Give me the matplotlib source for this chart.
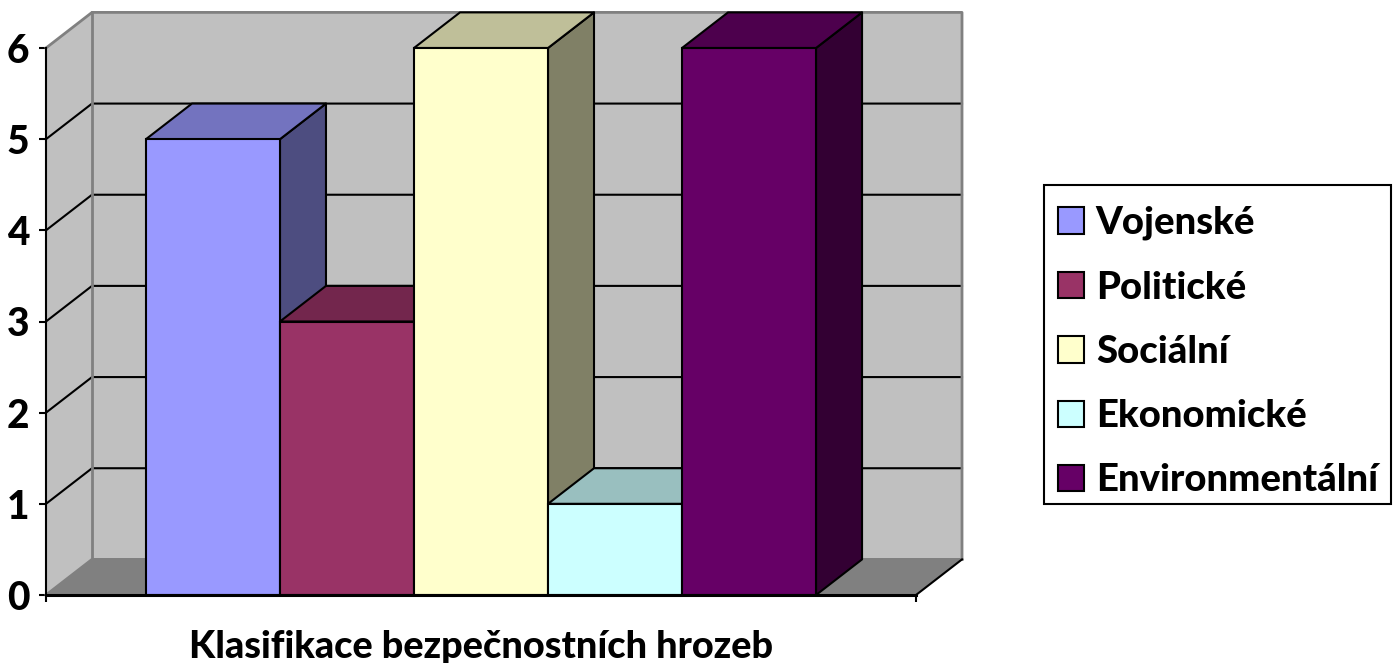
import numpy as np
import matplotlib
matplotlib.use("Agg")
import matplotlib.pyplot as plt
from matplotlib.patches import Polygon, Patch, Rectangle

categories = ["Vojenské", "Politické", "Sociální", "Ekonomické", "Environmentální"]
values = [5, 3, 6, 1, 6]
colors = ["#9999FF", "#993366", "#FFFFCC", "#CCFFFF", "#660066"]
top_colors = ["#7373BF", "#73264D", "#BFBF99", "#99BFBF", "#4D004D"]
side_colors = ["#4D4D80", "#4D1A33", "#808066", "#668080", "#330033"]
y_ticks = [0, 1, 2, 3, 4, 5, 6]
x_title = "Klasifikace bezpečnostních hrozeb"

plt.rcParams["font.family"] = ["Lato", "DejaVu Sans"]
plt.rcParams["font.weight"] = "black"

W, H = 1400, 663
fig = plt.figure(figsize=(W/100, H/100), dpi=100)
ax = fig.add_axes([46/W, (H-595)/H, 870/W, 547/H])

x0, x1 = -1.246, 5.246
ymax = 6
dx = 46/134.0   # depth offset
dy = 35.6/91.17
lw = 1.5
wall_col = "#C0C0C0"
floor_col = "#808080"
edge_col = "#808080"

ax.set_xlim(x0, x1)
ax.set_ylim(0, ymax)

def poly(pts, fc, ec="none", z=1, l=lw):
    ax.add_patch(Polygon(pts, closed=True, facecolor=fc, edgecolor=ec, linewidth=l,
                         zorder=z, clip_on=False, joinstyle="round"))

# walls
poly([(x0, 0), (x0, ymax), (x0+dx, ymax+dy), (x0+dx, dy)], wall_col, z=1)
poly([(x0+dx, dy), (x0+dx, ymax+dy), (x1+dx, ymax+dy), (x1+dx, dy)], wall_col, z=1)
poly([(x0, 0), (x0+dx, dy), (x1+dx, dy), (x1, 0)], floor_col, z=1)

# gridlines
for v in y_ticks[1:-1]:
    ax.plot([x0, x0+dx, x1+dx], [v, v+dy, v+dy], color="black", lw=lw, zorder=2,
            clip_on=False, solid_joinstyle="miter")
# wall edges
ax.plot([x0, x0+dx, x1+dx, x1+dx], [ymax, ymax+dy, ymax+dy, dy], color=edge_col, lw=2.0,
        zorder=2, clip_on=False)
ax.plot([x0+dx, x0+dx], [dy, ymax+dy], color=edge_col, lw=2.0, zorder=2, clip_on=False)
ax.plot([x0, x0+dx, x1+dx], [0, dy, dy], color=edge_col, lw=2.0, zorder=2, clip_on=False)
ax.plot([x1, x1+dx], [0, dy], color="black", lw=lw, zorder=2, clip_on=False)

# bars, left to right so the next one covers the side of the previous
for i, v in enumerate(values):
    z = 3 + i
    l, r = i-0.5, i+0.5
    poly([(r, 0), (r+dx, dy), (r+dx, v+dy), (r, v)], side_colors[i], "black", z)
    poly([(l, v), (l+dx, v+dy), (r+dx, v+dy), (r, v)], top_colors[i], "black", z)
    ax.bar(i, v, width=1.0, color=colors[i], edgecolor="black", linewidth=lw, zorder=z,
           clip_on=False)

# axes
for s in ["top", "right"]:
    ax.spines[s].set_visible(False)
ax.spines["left"].set_linewidth(lw)
ax.spines["bottom"].set_linewidth(2.2)
for s in ["left", "bottom"]:
    ax.spines[s].set_zorder(20)
ax.patch.set_visible(False)
ax.set_yticks(y_ticks)
ax.set_xticks([x0, x1])
ax.set_xticklabels(["", ""])
ax.tick_params(axis="y", length=5, width=lw, pad=7, labelsize=28)
ax.tick_params(axis="x", length=5, width=lw)
ax.set_xlabel(x_title, fontsize=27.3, fontweight="black", labelpad=17)

# legend frame is separate, the top padding is bigger than the side padding
fig.add_artist(Rectangle((1044/W, 1-504/H), 347/W, 319/H, transform=fig.transFigure,
                         facecolor="white", edgecolor="black", linewidth=lw))
handles = [Patch(facecolor=c, edgecolor="black", linewidth=lw) for c in colors]
leg = fig.legend(handles, categories, loc="upper left",
                 bbox_to_anchor=(1058/W, 1-206/H), bbox_transform=fig.transFigure,
                 fontsize=27.5, frameon=False, borderaxespad=0, handlelength=0.68,
                 handleheight=0.68, handletextpad=0.31, labelspacing=0.79, borderpad=0)

fig.savefig("out.png", dpi=100, facecolor="white")
